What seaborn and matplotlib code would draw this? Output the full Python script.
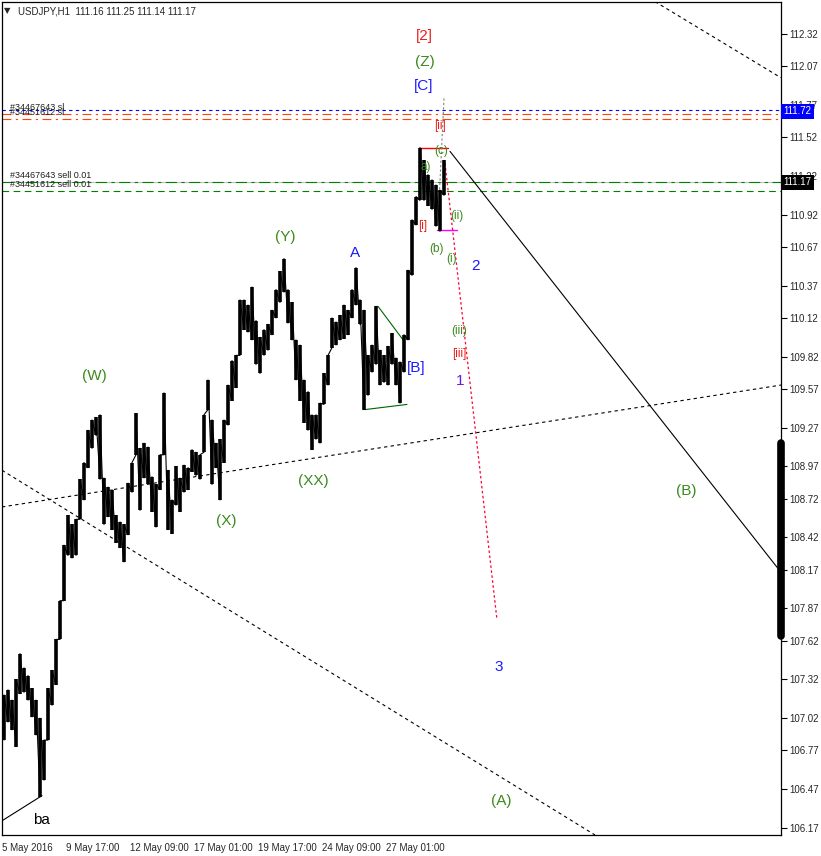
import numpy as np
import pandas as pd
import matplotlib
matplotlib.use('Agg')
import matplotlib.pyplot as plt
import matplotlib.transforms as mtransforms
import seaborn as sns

sns.set_style('white')
plt.rcParams['font.family'] = ['Liberation Sans', 'DejaVu Sans']

# USDJPY H1, condensed to 4-hour bars (high / low)
bar_high = [107.20, 107.24, 107.16, 107.32, 107.52, 107.41, 107.35, 107.25, 107.16, 107.02,
            106.85, 107.25, 107.39, 107.63, 107.93, 108.36, 108.59, 108.52, 108.56, 108.87,
            109.00, 109.25, 109.33, 109.35, 109.37, 108.88, 108.81, 108.79, 108.59, 108.54,
            108.52, 108.84, 109.00, 109.38, 109.11, 109.15, 109.12, 108.89, 108.83, 109.06,
            109.54, 108.94, 108.71, 108.97, 108.88, 108.98, 108.96, 109.10, 109.08, 109.06,
            109.37, 109.64, 109.33, 109.15, 109.18, 109.33, 109.60, 109.79, 109.83, 110.26,
            110.26, 110.22, 110.36, 110.10, 109.97, 110.03, 110.07, 110.18, 110.34, 110.48,
            110.58, 110.34, 110.24, 109.95, 109.91, 109.64, 109.55, 109.37, 109.37, 109.46,
            109.69, 109.83, 110.12, 110.09, 110.14, 110.22, 110.18, 110.34, 110.51, 110.26,
            110.18, 109.83, 109.91, 110.21, 109.87, 109.83, 109.90, 110.00, 109.81, 109.78,
            109.99, 110.49, 110.88, 111.06, 111.44, 111.34, 111.23, 111.19, 111.15, 111.11,
            111.34]
bar_low = [106.85, 106.99, 106.93, 106.80, 107.21, 107.22, 107.16, 107.03, 106.89, 106.41,
           106.54, 106.85, 107.12, 107.28, 107.63, 107.93, 108.28, 108.26, 108.28, 108.56,
           108.71, 108.96, 109.11, 109.21, 108.87, 108.52, 108.58, 108.48, 108.38, 108.34,
           108.23, 108.44, 108.77, 109.06, 108.63, 108.88, 108.83, 108.62, 108.50, 108.79,
           109.06, 108.48, 108.45, 108.67, 108.62, 108.77, 108.79, 108.93, 108.90, 108.87,
           109.08, 109.41, 108.83, 108.96, 108.71, 109.00, 109.29, 109.48, 109.58, 109.83,
           110.03, 110.01, 109.95, 109.76, 109.69, 109.83, 109.87, 109.99, 110.12, 110.24,
           110.32, 110.08, 109.95, 109.64, 109.48, 109.31, 109.25, 109.10, 109.18, 109.15,
           109.45, 109.60, 109.89, 109.91, 109.95, 109.96, 109.99, 110.12, 110.22, 110.07,
           109.41, 109.52, 109.70, 109.76, 109.60, 109.62, 109.60, 109.76, 109.60, 109.46,
           109.70, 109.95, 110.45, 110.84, 111.03, 111.03, 110.99, 110.96, 110.83, 110.79,
           111.07]

date_labels = ['5 May 2016', '9 May 17:00', '12 May 09:00', '17 May 01:00',
               '19 May 17:00', '24 May 09:00', '27 May 01:00']
price_ticks = [112.32, 112.07, 111.77, 111.52, 111.22, 110.92, 110.67, 110.37, 110.12,
               109.82, 109.57, 109.27, 108.97, 108.72, 108.42, 108.17, 107.87, 107.62,
               107.32, 107.02, 106.77, 106.47, 106.17]

# wave labels
wave_text = ['[2]', '(Z)', '[C]', '[ii]', '(c)', 'a)', '[i]', '(ii)', '(b)', '(i)', '2',
             'A', '(Y)', '(W)', '(XX)', '(X)', '[B]', '(iii)', '[iii]', '1', '3', '(B)',
             '(A)', 'ba']
wave_x = [105, 105.25, 105, 109, 109.25, 105.5, 104.75, 113.25, 108.25, 112, 118,
          87.75, 70.25, 22.5, 77.25, 55.5, 103, 113.75, 113.75, 114, 123.75, 170.5,
          124.25, 9.25]
wave_y = [112.30, 112.10, 111.92, 111.61, 111.41, 111.29, 110.83, 110.91, 110.65, 110.58,
          110.52, 110.62, 110.75, 109.67, 108.86, 108.55, 109.73, 110.02, 109.84, 109.63,
          107.42, 108.78, 106.38, 106.23]
wave_kind = ['red', 'green', 'blue', 'red', 'green', 'green', 'red', 'green', 'green',
             'green', 'blue', 'blue', 'green', 'green', 'green', 'green', 'blue', 'green',
             'red', 'violet', 'blue', 'green', 'green', 'black']
wave_big = [1, 1, 1, 0, 0, 0, 0, 0, 0, 0, 1, 1, 1, 1, 1, 1, 1, 0, 0, 1, 1, 1, 1, 1]

# trend lines: (x0, y0, x1, y1)
trend_lines = [
    (162.75, 112.57, 194.25, 111.98, 'black', (0, (3, 3)), 0.8),
    (-0.5, 108.656, 194.25, 109.60, 'black', (0, (3, 3)), 0.8),
    (-0.5, 108.94, 147.75, 106.115, 'black', (0, (3, 3)), 0.8),
    (111.5, 111.41, 194.25, 108.15, 'black', '-', 0.8),
    (-0.25, 106.23, 9.5, 106.42, 'black', '-', 0.8),
    (93.5, 110.21, 100.25, 109.93, '#006400', '-', 0.8),
    (90.25, 109.41, 100.75, 109.45, '#006400', '-', 0.8),
    (104, 111.44, 111, 111.44, '#ff0000', '-', 1.0),
    (108.25, 110.80, 113.25, 110.80, '#ff00ff', '-', 1.0),
    (110, 111.82, 108.5, 110.86, '#808080', (0, (2, 2)), 0.8),
    (110.25, 111.32, 123.25, 107.78, '#ff0033', (0, (2, 2)), 0.9),
]

order_levels = [111.73, 111.70, 111.66, 111.17, 111.10]
order_colors = ['#0000ff', '#ff4500', '#ff4500', '#008000', '#008000']
order_styles = [(0, (3, 3)), (0, (8, 4, 2, 4)), (0, (8, 4, 2, 4)), (0, (10, 4, 3, 4)),
                (0, (6, 4))]
order_text = ['#34467643 sl', '#34451612 sl', '#34467643 sell 0.01', '#34451612 sell 0.01']
order_text_y = [111.75, 111.71, 111.22, 111.15]

colors = {'red': '#e8201a', 'green': '#3a8a1c', 'blue': '#1a1aff',
          'violet': '#6a1be0', 'black': 'black'}

bars = pd.DataFrame({'high': bar_high, 'low': bar_low})
bars['pos'] = np.arange(len(bars))

W, H = 821, 856
fig = plt.figure(figsize=(W / 100, H / 100), dpi=100)
ax = fig.add_axes([2 / W, 21 / H, 779 / W, 833 / H])

# bid line + order lines
ax.axhline(111.17, color='#c0c0c0', lw=0.8)
for lvl, c, ls in zip(order_levels, order_colors, order_styles):
    ax.axhline(lvl, color=c, ls=ls, lw=0.8)
for t, y in zip(order_text, order_text_y):
    ax.text(1.5, y, t, fontsize=6.5, color='#202020', va='center')

for x0, y0, x1, y1, c, ls, lw in trend_lines:
    ax.plot([x0, x1], [y0, y1], color=c, ls=ls, lw=lw)

ax.vlines(bars['pos'], bars['low'], bars['high'], color='black', lw=2.6)
sns.lineplot(x=np.repeat(bars['pos'].values, 2),
             y=np.column_stack([bars['low'], bars['high']]).ravel(),
             ax=ax, color='black', lw=0.8, estimator=None, sort=False)

for t, x, y, k, big in zip(wave_text, wave_x, wave_y, wave_kind, wave_big):
    ax.text(x, y, t, color=colors[k], fontsize=11 if big else 8.5,
            ha='center', va='center')

ax.set_xlim(-0.5, 194.25)
ax.set_ylim(106.115, 112.567)

ax.set_xticks([-0.5 + 16 * k for k in range(len(date_labels))])
ax.set_xticklabels(date_labels, ha='left', fontsize=7)
ax.yaxis.tick_right()
ax.set_yticks(price_ticks)
ax.set_yticklabels([f'{v:.2f}' for v in price_ticks], fontsize=7)
ax.tick_params(axis='both', direction='out', length=4, width=0.8, color='black', pad=2)
for s in ax.spines.values():
    s.set_color('black')
    s.set_linewidth(0.9)

# current price / sl markers on the price scale
trans = mtransforms.blended_transform_factory(ax.transAxes, ax.transData)
ax.text(1.003, 111.72, '111.72', transform=trans, fontsize=7, color='white', va='center',
        ha='left', bbox=dict(boxstyle='square,pad=0.25', fc='#0000ff', ec='none'))
ax.text(1.003, 111.17, '111.17', transform=trans, fontsize=7, color='white', va='center',
        ha='left', bbox=dict(boxstyle='square,pad=0.25', fc='black', ec='none'))
ax.plot([1.0, 1.0], [109.15, 107.66], transform=trans, color='black', lw=5.5,
        solid_capstyle='round', clip_on=False)

fig.text(4 / W, 1 - 11 / H, '\u25bc', fontsize=6, va='center', family=['DejaVu Sans'])
fig.text(18 / W, 1 - 11 / H, 'USDJPY,H1  111.16 111.25 111.14 111.17', fontsize=7,
         va='center')

fig.savefig('out.png', dpi=100, facecolor='white')
